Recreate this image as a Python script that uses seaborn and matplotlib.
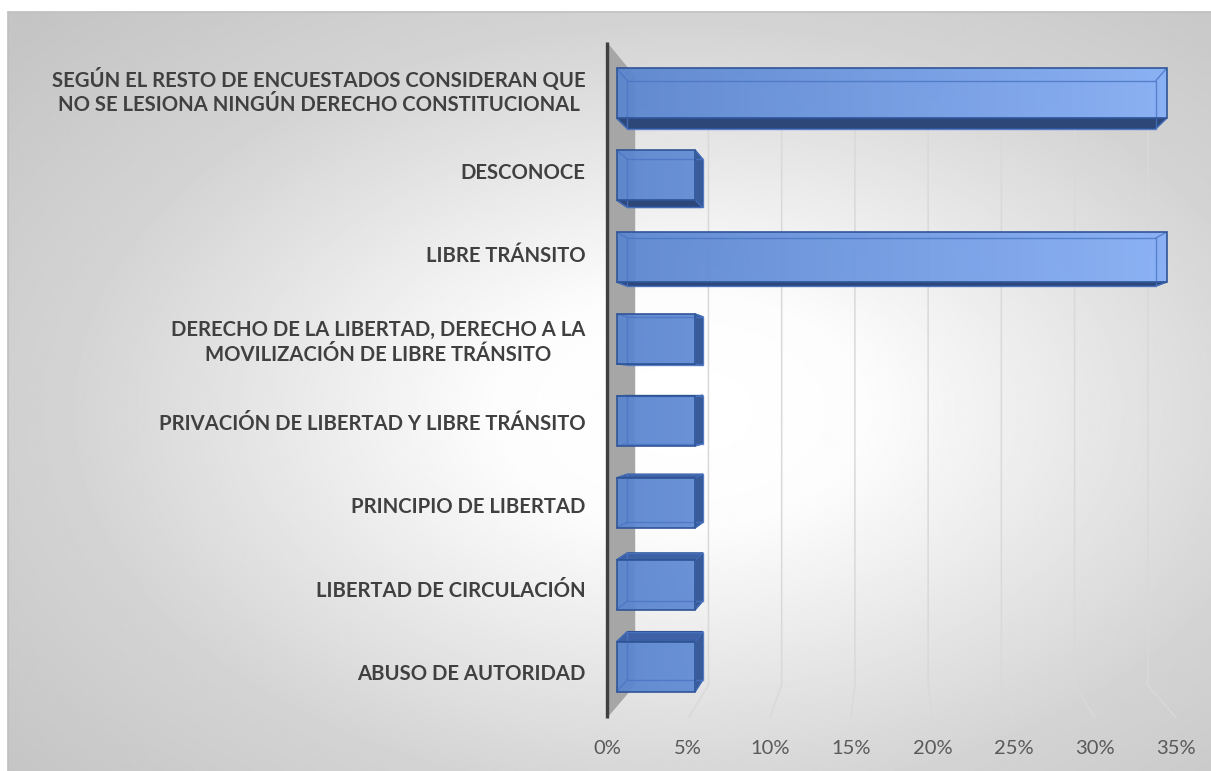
import numpy as np
import pandas as pd
import matplotlib
matplotlib.use("Agg")
import matplotlib.pyplot as plt
import seaborn as sns
from matplotlib.patches import Polygon
from matplotlib.lines import Line2D
from matplotlib.colors import LinearSegmentedColormap

# ---------------- data ----------------
categories = [
    "SEGÚN EL RESTO DE ENCUESTADOS CONSIDERAN QUE\nNO SE LESIONA NINGÚN DERECHO CONSTITUCIONAL",
    "DESCONOCE",
    "LIBRE TRÁNSITO",
    "DERECHO DE LA LIBERTAD, DERECHO A LA\nMOVILIZACIÓN DE LIBRE TRÁNSITO",
    "PRIVACIÓN DE LIBERTAD Y LIBRE TRÁNSITO",
    "PRINCIPIO DE LIBERTAD",
    "LIBERTAD DE CIRCULACIÓN",
    "ABUSO DE AUTORIDAD",
]
values = [35, 5, 35, 5, 5, 5, 5, 5]
tick_values = [0, 5, 10, 15, 20, 25, 30, 35]
tick_labels = [f"{v}%" for v in tick_values]

# ---------------- style ----------------
sns.set_theme(style="white")
plt.rcParams["font.family"] = ["Lato", "DejaVu Sans"]

W, H = 1211, 771
fig = plt.figure(figsize=(W / 100, H / 100), dpi=100)
fig.patch.set_facecolor("white")

# radial gradient background of the chart area
bg = fig.add_axes([8 / W, 0, 1 - 8 / W, 1 - 12 / H])
ny, nx = 380, 600
yy, xx = np.mgrid[0:ny, 0:nx]
pxx = 8 + xx * (W - 8) / nx
pyy = 12 + yy * (H - 12) / ny
rr = np.sqrt(((pxx - 680) / 600) ** 2 + ((pyy - 410) / 380) ** 2) / np.sqrt(2)
shade = np.interp(rr, [0, 0.22, 0.72, 1.05], [1.0, 0.99, 0.83, 0.77])
bg.imshow(shade, cmap="gray", vmin=0, vmax=1, extent=[0, 1, 0, 1],
          aspect="auto", origin="upper", interpolation="bilinear")
bg.axis("off")
fig.add_artist(Line2D([8 / W, 8 / W], [0, 1 - 12 / H], color="#bfbfbf", lw=1.2))
fig.add_artist(Line2D([8 / W, 1], [1 - 12 / H, 1 - 12 / H], color="#bfbfbf", lw=1.2))

# main axes
L, R, T, B = 600, 1200, 30, 725
ax = fig.add_axes([L / W, 1 - B / H, (R - L) / W, (B - T) / H])
ax.set_facecolor("none")

df = pd.DataFrame({"categoria": categories, "porcentaje": values})
sns.barplot(data=df, x="porcentaje", y="categoria", orient="h", width=0.61,
            color="#5b86d0", ax=ax)
bars = list(ax.patches)

# pixel <-> data scale of the front plane of the bars
x0px, xs = 616.7, 15.71
y0px, ys = 93.3, 81.9
xlim = ((L - x0px) / xs, (R - x0px) / xs)
ylim = ((B - y0px) / ys, (T - y0px) / ys)

# perspective
VPx, VPy = 17.4, 3.57
g_back, g_wall, g_front = 0.039, 0.0677, -0.0356
y_top, y_floor = -0.48, 7.49


def proj(x, y, g):
    return (x + g * (VPx - x), y + g * (VPy - y))


# gridlines on back wall + floor
for t in tick_values[1:]:
    a = proj(t, y_top, g_wall)
    b = proj(t, y_floor, g_wall)
    c = proj(t, y_floor, g_front)
    ax.plot([a[0], b[0], c[0]], [a[1], b[1], c[1]], color="#d9d9d9", lw=1.1,
            zorder=1, solid_capstyle="butt")

# side wall and axis line
wall = [proj(0, y_top, g_front), proj(0, y_top, g_wall),
        proj(0, y_floor, g_wall), proj(0, y_floor, g_front)]
ax.add_patch(Polygon(wall, closed=True, facecolor="#a6a6a6", edgecolor="none", zorder=1.5))
p1, p2 = proj(0, y_top, g_front), proj(0, y_floor, g_front)
ax.plot([p1[0], p2[0]], [p1[1], p2[1]], color="#404040", lw=2.4, zorder=2,
        solid_capstyle="butt")

# bars: 3D faces + gradient front
cmap = LinearSegmentedColormap.from_list("blu", ["#5a85cf", "#86aff6"])
for p in bars:
    bx0, by0 = p.get_x(), p.get_y()
    bx1, by1 = bx0 + p.get_width(), by0 + p.get_height()
    TL, TR, BR, BL = (bx0, by0), (bx1, by0), (bx1, by1), (bx0, by1)
    bTL, bTR, bBR, bBL = [proj(*q, g_back) for q in (TL, TR, BR, BL)]
    if by1 < VPy:
        ax.add_patch(Polygon([BL, BR, bBR, bBL], closed=True, facecolor="#2c4778",
                             edgecolor="#2c4f8f", lw=1, zorder=2.5))
    if by0 > VPy:
        ax.add_patch(Polygon([TL, TR, bTR, bTL], closed=True, facecolor="#3d61a4",
                             edgecolor="#2c4f8f", lw=1, zorder=2.5))
    if bx1 < VPx:
        ax.add_patch(Polygon([TR, BR, bBR, bTR], closed=True, facecolor="#3a5b99",
                             edgecolor="#2c4f8f", lw=1, zorder=2.5))
    grad = np.linspace(bx0, bx1, 64)[None, :]
    ax.imshow(grad, extent=[bx0, bx1, by1, by0], cmap=cmap, vmin=0, vmax=35,
              aspect="auto", alpha=0.94, zorder=3, interpolation="bilinear")
    # back edges seen through the translucent front
    bx = [bTL[0], bTR[0], bBR[0], bBL[0], bTL[0]]
    byy = [bTL[1], bTR[1], bBR[1], bBL[1], bTL[1]]
    ax.plot(bx, byy, color="#4a75c4", lw=1, alpha=0.8, zorder=3.3)
    for f, b in ((TL, bTL), (TR, bTR), (BR, bBR), (BL, bBL)):
        ax.plot([f[0], b[0]], [f[1], b[1]], color="#4a75c4", lw=1, alpha=0.8, zorder=3.3)
    p.set_facecolor("none")
    p.set_edgecolor("#2f5597")
    p.set_linewidth(1.2)
    p.set_zorder(4)

ax.set_xlim(*xlim)
ax.set_ylim(*ylim)

# ticks
ax.set_xticks([proj(t, y_floor, g_front)[0] for t in tick_values])
ax.set_xticklabels(tick_labels, fontsize=14.5, color="#595959")
ax.set_yticks([VPy + 1.021 * (i - VPy) for i in range(len(categories))])
ax.set_yticklabels(categories, fontsize=14.6, fontweight="bold", color="#404040")
for lab in ax.get_yticklabels():
    lab.set_multialignment("center")
    lab.set_linespacing(1.3)
ax.tick_params(axis="x", length=0, pad=10.5)
ax.tick_params(axis="y", length=0, pad=10.5)
ax.set_xlabel("")
ax.set_ylabel("")
ax.grid(False)
for s in ax.spines.values():
    s.set_visible(False)

fig.savefig("out.png", dpi=100, facecolor="white")
